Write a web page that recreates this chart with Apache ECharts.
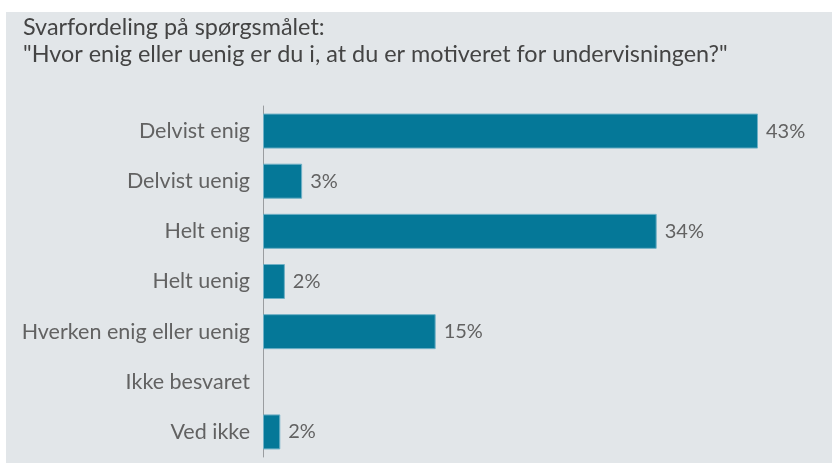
<!DOCTYPE html>
<html>
<head>
<meta charset="utf-8">
<script src="https://cdn.jsdelivr.net/npm/echarts@6/dist/echarts.min.js"></script>
<style>
  body { margin: 0; background: #fff; }
  #panel { position: absolute; left: 6px; top: 12px; right: 0; bottom: 0; background: #e2e6e9; }
  #chart { position: absolute; left: 0; top: 0; width: 832px; height: 463px; }
</style>
</head>
<body>
<div id="panel"></div>
<div id="chart"></div>
<script>
// svarkategorier og andele (%)
var categories = ['Delvist enig', 'Delvist uenig', 'Helt enig', 'Helt uenig', 'Hverken enig eller uenig', 'Ikke besvaret', 'Ved ikke'];
var shares = [43.0, 3.4, 34.2, 1.9, 15.0, 0, 1.5];

var myChart = echarts.init(document.getElementById('chart'));

var option = {
  animation: false,
  title: {
    left: 18,
    top: 9,
    text: 'Svarfordeling på spørgsmålet:\n"Hvor enig eller uenig er du i, at du er motiveret for undervisningen?"',
    textStyle: {
      fontFamily: 'Lato',
      fontWeight: 'normal',
      fontSize: 23.4,
      lineHeight: 27,
      color: '#444444'
    }
  },
  grid: {
    left: 263,
    right: 51,
    top: 106,
    bottom: 6,
    containLabel: false
  },
  xAxis: {
    type: 'value',
    min: 0,
    max: 45,
    show: false
  },
  yAxis: {
    type: 'category',
    inverse: true,
    data: categories,
    axisLine: { lineStyle: { color: '#9a9da0' } },
    axisTick: { length: 8, alignWithLabel: true, lineStyle: { color: '#8f9295' } },
    axisLabel: {
      margin: 13,
      fontFamily: 'Lato',
      fontSize: 21.5,
      color: '#626262'
    },
    splitLine: { show: false }
  },
  series: [
    {
      type: 'bar',
      data: shares.map(function (v) {
        return { value: v, itemStyle: { borderWidth: v > 0 ? 1 : 0 } };
      }),
      barWidth: 35,
      itemStyle: {
        color: '#057898',
        borderColor: '#6fb0c6'
      },
      label: {
        show: true,
        position: 'right',
        distance: 8,
        fontFamily: 'Lato',
        fontSize: 20,
        color: '#626262',
        formatter: function (p) {
          return p.value > 0 ? Math.round(p.value) + '%' : '';
        }
      }
    }
  ]
};

option && myChart.setOption(option);
</script>
</body>
</html>
